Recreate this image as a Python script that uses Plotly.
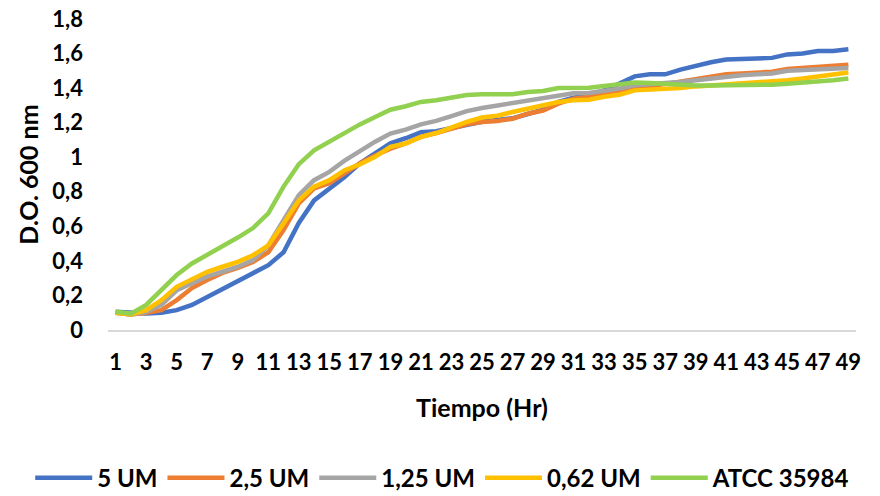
import plotly.graph_objects as go

# Growth curves (optical density at 600 nm) over 49 hourly readings
hours = list(range(1, 50))

od_5um = [0.105, 0.10, 0.095, 0.10, 0.115, 0.145, 0.19, 0.24, 0.28, 0.33,
          0.375, 0.45, 0.62, 0.75, 0.82, 0.885, 0.965, 1.02, 1.08, 1.11,
          1.145, 1.15, 1.17, 1.19, 1.205, 1.215, 1.225, 1.25, 1.275, 1.32,
          1.345, 1.36, 1.387, 1.426, 1.468, 1.48, 1.48, 1.507, 1.53, 1.55,
          1.565, 1.57, 1.57, 1.575, 1.595, 1.60, 1.615, 1.615, 1.625]

od_2_5um = [0.10, 0.09, 0.10, 0.115, 0.173, 0.243, 0.29, 0.33, 0.36, 0.394,
            0.45, 0.578, 0.733, 0.82, 0.85, 0.905, 0.965, 1.01, 1.05, 1.08,
            1.118, 1.14, 1.165, 1.19, 1.204, 1.21, 1.223, 1.252, 1.27, 1.31,
            1.339, 1.35, 1.368, 1.387, 1.40, 1.41, 1.425, 1.44, 1.455, 1.465,
            1.48, 1.485, 1.49, 1.495, 1.51, 1.515, 1.525, 1.53, 1.535]

od_1_25um = [0.10, 0.09, 0.105, 0.145, 0.23, 0.27, 0.31, 0.337, 0.366, 0.405,
             0.49, 0.636, 0.78, 0.867, 0.915, 0.98, 1.035, 1.09, 1.137, 1.16,
             1.19, 1.21, 1.238, 1.267, 1.285, 1.30, 1.31, 1.33, 1.34, 1.358,
             1.37, 1.372, 1.383, 1.397, 1.416, 1.425, 1.43, 1.435, 1.445, 1.455,
             1.47, 1.475, 1.48, 1.485, 1.50, 1.505, 1.51, 1.513, 1.516]

od_0_62um = [0.10, 0.09, 0.115, 0.173, 0.25, 0.293, 0.337, 0.366, 0.394, 0.433,
             0.49, 0.616, 0.75, 0.83, 0.867, 0.925, 0.958, 1.002, 1.06, 1.079,
             1.118, 1.14, 1.175, 1.204, 1.23, 1.24, 1.262, 1.28, 1.30, 1.32,
             1.33, 1.333, 1.35, 1.362, 1.387, 1.39, 1.395, 1.40, 1.41, 1.415,
             1.42, 1.425, 1.43, 1.435, 1.445, 1.455, 1.465, 1.475, 1.49]

od_atcc = [0.105, 0.095, 0.145, 0.23, 0.318, 0.385, 0.433, 0.48, 0.535, 0.59,
           0.675, 0.83, 0.96, 1.04, 1.09, 1.146, 1.19, 1.233, 1.275, 1.295,
           1.32, 1.33, 1.345, 1.36, 1.365, 1.365, 1.365, 1.378, 1.383, 1.40,
           1.40, 1.402, 1.412, 1.42, 1.432, 1.43, 1.425, 1.415, 1.415, 1.415,
           1.415, 1.415, 1.418, 1.42, 1.425, 1.43, 1.44, 1.445, 1.455]

series = [
    ("5 UM", od_5um, "#4472C4"),
    ("2,5 UM", od_2_5um, "#ED7D31"),
    ("1,25 UM", od_1_25um, "#A5A5A5"),
    ("0,62 UM", od_0_62um, "#FFC000"),
    ("ATCC 35984", od_atcc, "#92D050"),
]

x_ticks = list(range(1, 50, 2))
y_ticks = [0, 0.2, 0.4, 0.6, 0.8, 1.0, 1.2, 1.4, 1.6, 1.8]
y_tick_text = ["0", "0,2", "0,4", "0,6", "0,8", "1", "1,2", "1,4", "1,6", "1,8"]

FONT = "Lato, 'Open Sans', sans-serif"


def bold(size):
    return dict(family=FONT, size=size, color="black", weight="bold")


fig = go.Figure()
for name, values, color in series:
    fig.add_trace(go.Scatter(
        x=hours, y=values, name=name, mode="lines",
        line=dict(color=color, width=4.5),
    ))

fig.update_layout(
    width=880, height=496,
    margin=dict(l=108, r=24, t=19, b=166, autoexpand=False),
    paper_bgcolor="white", plot_bgcolor="white",
    font=bold(22),
    showlegend=True,
    legend=dict(
        orientation="h", x=-0.104, xanchor="left", y=-0.476, yanchor="middle",
        font=bold(24), itemwidth=57, tracegroupgap=0,
    ),
    xaxis=dict(
        range=[0.5, 49.5], tickmode="array", tickvals=x_ticks,
        ticktext=[str(v) for v in x_ticks],
        showgrid=False, zeroline=False, automargin=False,
        showline=True, linecolor="#D9D9D9", linewidth=1.5,
        ticks="", ticklabelstandoff=12,
        tickfont=bold(22),
        title=dict(text="Tiempo (Hr)", standoff=25, font=bold(25)),
    ),
    yaxis=dict(
        range=[0, 1.8], tickmode="array", tickvals=y_ticks, ticktext=y_tick_text,
        showgrid=False, zeroline=False, showline=False, automargin=False,
        ticks="", ticklabelstandoff=24,
        tickfont=bold(22),
        title=dict(text="D.O. 600 nm", standoff=6, font=bold(25)),
    ),
)

fig.write_html("out.html")
